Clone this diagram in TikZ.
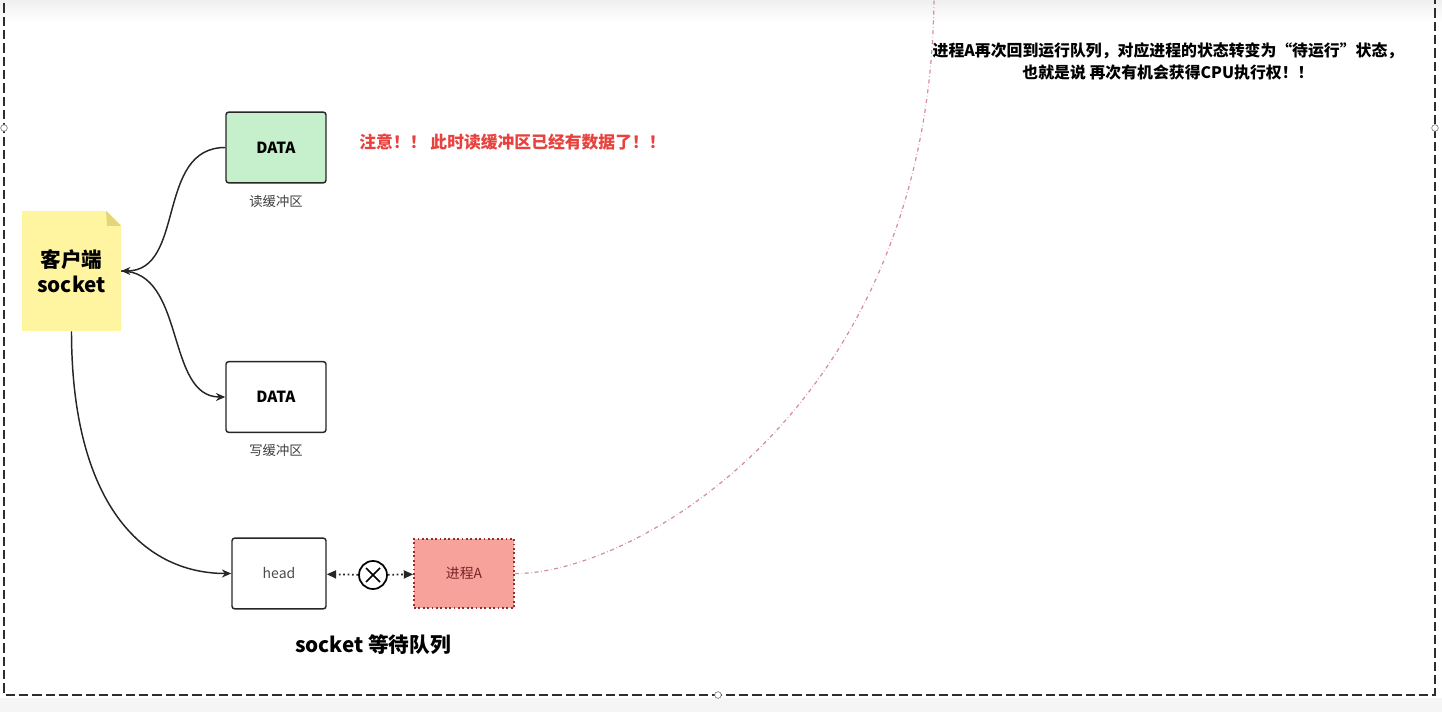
\documentclass[tikz,border=0pt]{standalone}
\usepackage{fontspec}
\setmainfont{Noto Sans CJK SC}
\usepackage{tikz}
\usetikzlibrary{positioning,arrows.meta,calc}
\definecolor{NoteYellow}{RGB}{255,245,160}
\definecolor{FoldYellow}{RGB}{226,214,120}
\definecolor{BufGreen}{RGB}{198,240,204}
\definecolor{ProcRed}{RGB}{248,162,156}
\definecolor{ProcBorder}{RGB}{150,45,45}
\definecolor{AlertRed}{RGB}{232,66,62}
\definecolor{WakePink}{RGB}{214,140,155}
\definecolor{FrameGray}{RGB}{45,45,45}

\begin{document}
\begin{tikzpicture}[x=0.75pt, y=-0.75pt,
    buffer/.style={rectangle, draw=black!85, rounded corners=2pt, line width=1.1pt,
                   minimum width=75pt, minimum height=53pt,
                   font=\bfseries\fontsize{11.5}{13}\selectfont},
    caption/.style={font=\fontsize{10}{12}\selectfont, text=black!75},
    note/.style={rectangle, fill=NoteYellow, minimum width=74pt, minimum height=90pt,
                 align=center, font=\bfseries\fontsize{15.5}{19}\selectfont},
    link/.style={-{Stealth[length=7pt,width=6pt]}, line width=1.1pt, black!85},
    waitlink/.style={-{Triangle[length=7pt,width=6pt]}, dotted, line width=1.3pt, black!85},
    wake/.style={dash dot, line width=0.9pt, WakePink},
    handle/.style={circle, draw=black!60, fill=white, inner sep=0pt, minimum size=5pt}
]
    \useasboundingbox (0,0) rectangle (1442,712);
    \fill[white] (0,0) rectangle (1442,712);
    \shade[top color=black!6, bottom color=white] (0,0) rectangle (1442,22);
    \fill[black!4] (0,698) rectangle (1442,712);

    % frame of the selection
    \draw[FrameGray, line width=1.4pt, dash pattern=on 7pt off 3pt]
        (4,-10) -- (4,695) -- (1435,695) -- (1435,-10);
    \node[handle] (h1) at (4,128) {};
    \node[handle] (h2) at (1435,128) {};
    \node[handle] (h3) at (718,695) {};

    % client socket note
    \node[note] (client) at (71.5,271) {客户端\\socket};
    \fill[white] (106,210) -- (122,210) -- (122,226) -- cycle;
    \fill[FoldYellow] (106,211) -- (121,226) -- (107,226) -- cycle;

    % buffers
    \node[buffer, fill=BufGreen] (rbuf) at (276,147.5) {DATA};
    \node[caption, below=5pt of rbuf] (rcap) {读缓冲区};
    \node[buffer, fill=white] (wbuf) at (276,397) {DATA};
    \node[caption, below=5pt of wbuf] (wcap) {写缓冲区};

    \node[right=21pt of rbuf, yshift=4pt, text=AlertRed,
          font=\bfseries\fontsize{12.6}{14}\selectfont] (alert)
        {注意！！ 此时读缓冲区已经有数据了！！};

    % wait queue
    \node[buffer, minimum width=70.5pt, font=\fontsize{10.5}{12}\selectfont,
          text=black!70] (head) at (279,573.5) {head};
    \node[rectangle, draw=ProcBorder, dotted, line width=1.3pt, fill=ProcRed,
          minimum width=75pt, minimum height=52pt, text=ProcBorder!80!black,
          font=\fontsize{10.4}{12}\selectfont] (procA) at (464,573.5) {进程A};
    \node[circle, draw=black, line width=1.3pt, minimum size=21pt,
          inner sep=0pt] (cut) at (373,575) {};
    \draw[line width=1.3pt] ($(cut)+(-7,-7)$) -- ($(cut)+(7,7)$);
    \draw[line width=1.3pt] ($(cut)+(-7,7)$) -- ($(cut)+(7,-7)$);
    \node[below=30pt of cut, font=\bfseries\fontsize{15.5}{18}\selectfont] (queue)
        {socket 等待队列};

    \draw[waitlink] (cut) -- (head);
    \draw[waitlink] (cut) -- (procA);

    \draw[link] (rbuf.west) .. controls +(-70,0) and +(65,0) .. (client.east);
    \draw[link] (client.east) .. controls +(65,0) and +(-60,0) .. (wbuf.west);
    \draw[link] (client.south) .. controls +(0,170) and +(-90,0) .. (head.west);

    % process A goes back to the run queue
    \coordinate (runq) at (934,-10);
    \draw[wake] (procA.east) .. controls (630,575) and (934,410) .. (runq);

    \node[align=center, font=\bfseries\fontsize{11.9}{16.5}\selectfont] (back) at (1168,61)
        {进程A再次回到运行队列，对应进程的状态转变为“待运行”状态，\\
         也就是说 再次有机会获得CPU执行权！！};
\end{tikzpicture}
\end{document}
